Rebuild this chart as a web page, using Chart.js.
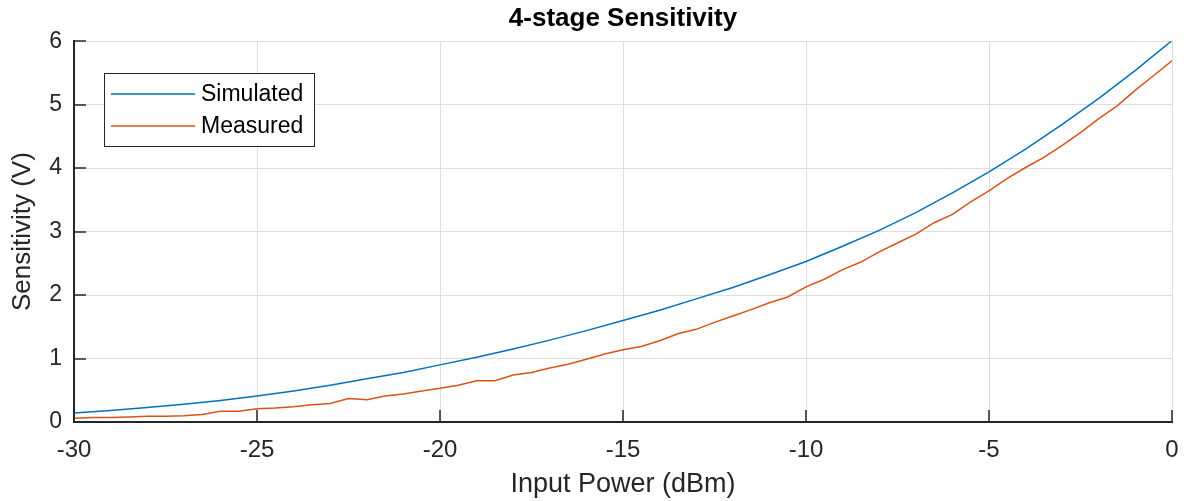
<!DOCTYPE html>
<html>
<head>
<meta charset="utf-8">
<script src="https://cdn.jsdelivr.net/npm/chart.js@4.4.1/dist/chart.umd.min.js"></script>
<style>
    html, body { margin: 0; padding: 0; background: #ffffff; }
    #wrap { width: 1186px; height: 501px; }
</style>
</head>
<body>
<div id="wrap"><canvas id="sensChart"></canvas></div>
<script>
// Input power (dBm) and sensitivity (V)
const simPower = [-30, -29, -28, -27, -26, -25, -24, -23, -22, -21, -20, -19, -18, -17, -16, -15,
    -14, -13, -12, -11, -10, -9, -8, -7, -6, -5, -4, -3, -2, -1, 0];
const simValues = [0.14, 0.18, 0.23, 0.28, 0.34, 0.41, 0.49, 0.58, 0.68, 0.78, 0.90, 1.02, 1.15, 1.29, 1.44, 1.60,
    1.76, 1.94, 2.12, 2.32, 2.53, 2.77, 3.02, 3.30, 3.61, 3.94, 4.30, 4.69, 5.10, 5.54, 6.01];

const measPower = [-30, -29.5, -29, -28.5, -28, -27.5, -27, -26.5, -26, -25.5, -25, -24.5, -24, -23.5, -23, -22.5,
    -22, -21.5, -21, -20.5, -20, -19.5, -19, -18.5, -18, -17.5, -17, -16.5, -16, -15.5, -15,
    -14.5, -14, -13.5, -13, -12.5, -12, -11.5, -11, -10.5, -10, -9.5, -9, -8.5, -8, -7.5, -7,
    -6.5, -6, -5.5, -5, -4.5, -4, -3.5, -3, -2.5, -2, -1.5, -1, -0.5, 0];
const measValues = [0.06, 0.07, 0.07, 0.08, 0.09, 0.09, 0.10, 0.12, 0.17, 0.17, 0.21, 0.22, 0.24, 0.27, 0.29, 0.37,
    0.35, 0.41, 0.44, 0.49, 0.53, 0.58, 0.65, 0.65, 0.74, 0.78, 0.85, 0.91, 0.99, 1.07, 1.14,
    1.19, 1.28, 1.39, 1.46, 1.57, 1.67, 1.77, 1.88, 1.97, 2.13, 2.25, 2.40, 2.52, 2.68, 2.82, 2.96,
    3.14, 3.27, 3.47, 3.64, 3.84, 4.01, 4.17, 4.36, 4.56, 4.78, 4.98, 5.23, 5.46, 5.69];

const seriesNames = ["Simulated", "Measured"];
const xTicks = [-30, -25, -20, -15, -10, -5, 0];
const yTicks = [0, 1, 2, 3, 4, 5, 6];

const FONT = "'Liberation Sans', Arial, Helvetica, sans-serif";
const INK = "#262626";

// MATLAB style: ticks pointing into the axes, legend box inside the plot
const matlabBits = {
    id: "matlabBits",
    afterDatasetsDraw(chart) {
        const ctx = chart.ctx;
        const area = chart.chartArea;
        const xs = chart.scales.x;
        const ys = chart.scales.y;
        ctx.save();
        ctx.strokeStyle = INK;
        ctx.lineWidth = 1.5;
        ctx.beginPath();
        xTicks.forEach(v => {
            const px = Math.round(xs.getPixelForValue(v));
            ctx.moveTo(px, area.bottom);
            ctx.lineTo(px, area.bottom - 12);
        });
        yTicks.forEach(v => {
            const py = Math.round(ys.getPixelForValue(v));
            ctx.moveTo(area.left, py);
            ctx.lineTo(area.left + 12, py);
        });
        ctx.stroke();

        // legend
        const bx = 104, by = 73, bw = 210, bh = 73;
        ctx.fillStyle = "#ffffff";
        ctx.fillRect(bx, by, bw, bh);
        ctx.lineWidth = 1;
        ctx.strokeStyle = INK;
        ctx.strokeRect(bx + 0.5, by + 0.5, bw, bh);
        ctx.font = "23px " + FONT;
        ctx.textBaseline = "middle";
        chart.data.datasets.forEach((ds, i) => {
            const ly = by + 21 + i * 32;
            ctx.strokeStyle = ds.borderColor;
            ctx.lineWidth = 1.5;
            ctx.beginPath();
            ctx.moveTo(bx + 7, ly);
            ctx.lineTo(bx + 91, ly);
            ctx.stroke();
            ctx.fillStyle = "#000000";
            ctx.fillText(ds.label, bx + 97, ly + 1);
        });
        ctx.restore();
    }
};

const ctx = document.getElementById("sensChart");

new Chart(ctx, {
    type: "line",
    data: {
        datasets: [{
            label: seriesNames[0],
            data: simPower.map((p, i) => ({ x: p, y: simValues[i] })),
            borderColor: "#0072BD",
            borderWidth: 1.5,
            pointRadius: 0,
            fill: false
        }, {
            label: seriesNames[1],
            data: measPower.map((p, i) => ({ x: p, y: measValues[i] })),
            borderColor: "#D95319",
            borderWidth: 1.5,
            pointRadius: 0,
            fill: false
        }]
    },
    options: {
        responsive: true,
        maintainAspectRatio: false,
        animation: false,
        layout: {
            padding: { left: 0, right: 14, top: 0, bottom: 0 }
        },
        plugins: {
            legend: { display: false },
            tooltip: { enabled: false },
            title: {
                display: true,
                fullSize: false,
                text: "4-stage Sensitivity",
                color: "#000000",
                font: { family: FONT, size: 26, weight: "bold" },
                padding: { top: 3, bottom: 7 }
            }
        },
        scales: {
            x: {
                type: "linear",
                min: -30,
                max: 0,
                afterBuildTicks: axis => { axis.ticks = xTicks.map(v => ({ value: v })); },
                afterFit: axis => {
                    axis.height = 79;
                    axis.paddingLeft = 0;
                    axis.paddingRight = 0;
                },
                ticks: {
                    color: INK,
                    padding: 14,
                    maxRotation: 0,
                    font: { family: FONT, size: 24 }
                },
                grid: { color: "#dfdfdf", lineWidth: 1, drawTicks: false },
                border: { color: INK, width: 2 },
                title: {
                    display: true,
                    text: "Input Power (dBm)",
                    color: INK,
                    font: { family: FONT, size: 27 },
                    padding: { top: 0, bottom: 0 }
                }
            },
            y: {
                min: 0,
                max: 6,
                afterBuildTicks: axis => { axis.ticks = yTicks.map(v => ({ value: v })); },
                afterFit: axis => {
                    axis.width = 74;
                    axis.paddingTop = 0;
                    axis.paddingBottom = 0;
                },
                ticks: {
                    color: INK,
                    padding: 12,
                    font: { family: FONT, size: 23 }
                },
                grid: { color: "#dfdfdf", lineWidth: 1, drawTicks: false },
                border: { color: INK, width: 2 },
                title: {
                    display: true,
                    text: "Sensitivity (V)",
                    color: INK,
                    font: { family: FONT, size: 26 },
                    padding: { top: 7, bottom: 0 }
                }
            }
        }
    },
    plugins: [matlabBits]
});
</script>
</body>
</html>
